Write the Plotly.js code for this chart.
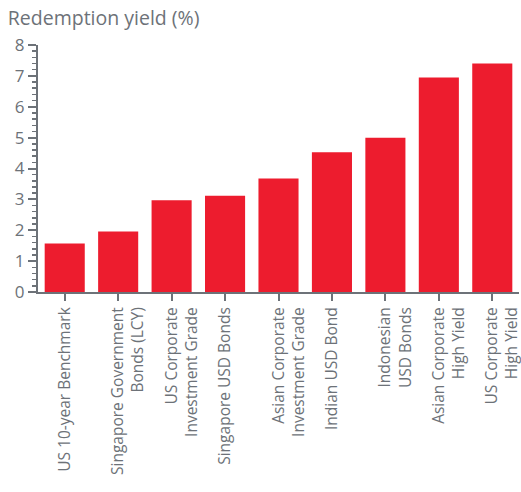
<!DOCTYPE html>
<html>
<head>
<meta charset="utf-8">
<script src="https://cdn.plot.ly/plotly-3.0.1.min.js"></script>
<style>html,body{margin:0;padding:0;background:#fff;}#chart{width:521px;height:492px;}</style>
</head>
<body>
<div id="chart"></div>
<script>
const categories = [
  "US 10-year Benchmark",
  " <br>Singapore Government<br>Bonds (LCY)",
  " <br>US Corporate<br>Investment Grade",
  "Singapore USD Bonds",
  " <br>Asian Corporate<br>Investment Grade",
  "Indian USD Bond",
  " <br>Indonesian<br>USD Bonds",
  " <br>Asian Corporate<br>High Yield",
  " <br>US Corporate<br>High Yield"
];
const yields = [1.57, 1.96, 2.97, 3.12, 3.68, 4.53, 5.0, 6.95, 7.4];
const yTicks = [0, 1, 2, 3, 4, 5, 6, 7, 8];

const grey = "#6d7278";
const font = "Open Sans, sans-serif";

Plotly.newPlot("chart", [{
  type: "bar",
  x: categories,
  y: yields,
  marker: {color: "#ed1c2e"},
  hoverinfo: "skip"
}], {
  width: 521, height: 492,
  margin: {l: 38, r: 2, t: 45, b: 200},
  paper_bgcolor: "#fff", plot_bgcolor: "#fff",
  bargap: 0.25,
  showlegend: false,
  title: {text: "Redemption yield (%)", x: 0.015, xanchor: "left", y: 0.963, yanchor: "middle",
          font: {family: font, size: 19.5, color: grey}},
  xaxis: {
    type: "category",
    tickangle: -90,
    ticks: "outside", ticklen: 7, tickwidth: 2, tickcolor: grey,
    showline: true, linecolor: grey, linewidth: 2,
    showgrid: false, zeroline: false,
    tickfont: {family: font, size: 15.5, color: grey}
  },
  yaxis: {
    range: [0, 8],
    tickvals: yTicks,
    ticktext: yTicks.map(String),
    ticks: "outside", ticklen: 8, tickwidth: 2, tickcolor: grey,
    minor: {dtick: 0.2, ticks: "outside", ticklen: 4, tickwidth: 1.5, tickcolor: grey, showgrid: false},
    showline: true, linecolor: grey, linewidth: 2,
    showgrid: false, zeroline: false,
    tickfont: {family: font, size: 17, color: grey}
  }
}, {staticPlot: true});
</script>
</body>
</html>
